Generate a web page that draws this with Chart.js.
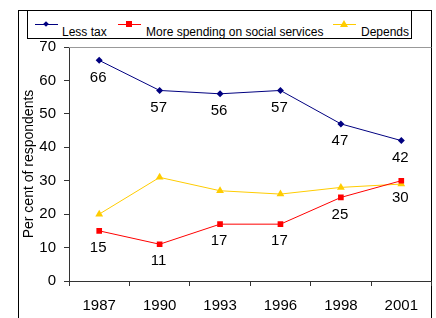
<!DOCTYPE html>
<html>
<head>
<meta charset="utf-8">
<script src="https://cdn.jsdelivr.net/npm/chart.js@4/dist/chart.umd.min.js"></script>
<style>
    body { margin: 0; background: #fff; font-family: "Liberation Sans", Arial, sans-serif; }
    #wrap { position: relative; width: 436px; height: 318px; overflow: hidden; }
    #frame { position: absolute; left: 18px; top: 10px; width: 412px; height: 330px; border: 1px solid #000; }
    #legend { position: absolute; left: 27px; top: 10px; width: 383px; height: 27px; border: 1px solid #000; background: #fff; }
    .lg-line { position: absolute; height: 1px; width: 23px; top: 24px; }
    .lg-text { position: absolute; top: 24px; font-size: 12px; line-height: 14px; color: #000; white-space: nowrap; }
    .mk { position: absolute; }
    canvas { position: absolute; left: 0; top: 0; }
</style>
</head>
<body>
<div id="wrap">
    <div id="frame"></div>
    <canvas id="myChart" width="436" height="318"></canvas>
    <div id="legend"></div>
</div>
<script>
const years = ['1987', '1990', '1993', '1996', '1998', '2001'];
const lessTax = [66, 57, 56, 57, 47, 42];
const moreSpending = [15, 11, 17, 17, 25, 30];
const depends = [20, 31, 27, 26, 28, 29];
const yTicks = [0, 10, 20, 30, 40, 50, 60, 70];

const seriesNames = ['Less tax', 'More spending on social services', 'Depends'];
const seriesColors = ['#000080', '#FF0000', '#FFCC00'];

// legend drawn as html, page coordinates
function buildLegend() {
    const legend = document.getElementById('legend');
    const items = [
        { lineX: 35, textX: 62, marker: 'diamond' },
        { lineX: 118, textX: 146, marker: 'square' },
        { lineX: 333, textX: 361, marker: 'triangle' }
    ];
    let html = '';
    items.forEach((it, i) => {
        const c = seriesColors[i];
        const lx = it.lineX - 28;
        html += `<div class="lg-line" style="left:${lx}px;top:13px;background:${c}"></div>`;
        const mx = lx + 11;
        if (it.marker === 'diamond') {
            html += `<div class="mk" style="left:${mx - 2}px;top:11px;width:4px;height:4px;background:${c};transform:rotate(45deg)"></div>`;
        } else if (it.marker === 'square') {
            html += `<div class="mk" style="left:${mx - 3}px;top:10px;width:6px;height:6px;background:${c}"></div>`;
        } else {
            html += `<div class="mk" style="left:${mx - 4}px;top:9px;width:0;height:0;border-left:4px solid transparent;border-right:4px solid transparent;border-bottom:7px solid ${c}"></div>`;
        }
        html += `<div class="lg-text" style="left:${it.textX - 28}px;top:14px">${seriesNames[i]}</div>`;
    });
    legend.innerHTML = html;
}
buildLegend();

const valueLabels = {
    id: 'valueLabels',
    afterDatasetsDraw(chart) {
        const ctx = chart.ctx;
        ctx.save();
        ctx.font = '15px "Liberation Sans", Arial, sans-serif';
        ctx.fillStyle = '#000';
        ctx.textAlign = 'center';
        ctx.textBaseline = 'middle';
        [0, 1].forEach(di => {
            const meta = chart.getDatasetMeta(di);
            meta.data.forEach((pt, i) => {
                ctx.fillText(String(chart.data.datasets[di].data[i]), pt.x - 1, pt.y + 17);
            });
        });
        ctx.restore();
    }
};

const plotBorder = {
    id: 'plotBorder',
    beforeDatasetsDraw(chart) {
        const a = chart.chartArea;
        const ctx = chart.ctx;
        ctx.save();
        ctx.strokeStyle = '#999';
        ctx.lineWidth = 1;
        ctx.beginPath();
        ctx.moveTo(a.left, a.top + 0.5);
        ctx.lineTo(a.right, a.top + 0.5);
        ctx.stroke();
        ctx.restore();
    }
};

new Chart(document.getElementById('myChart'), {
    type: 'line',
    data: {
        labels: years,
        datasets: [{
            label: seriesNames[0],
            data: lessTax,
            borderColor: seriesColors[0],
            backgroundColor: seriesColors[0],
            borderWidth: 1,
            pointStyle: 'rectRot',
            pointRadius: 3.5,
            pointBorderWidth: 0
        }, {
            label: seriesNames[1],
            data: moreSpending,
            borderColor: seriesColors[1],
            backgroundColor: seriesColors[1],
            borderWidth: 1,
            pointStyle: 'rect',
            pointRadius: 4,
            pointBorderWidth: 0
        }, {
            label: seriesNames[2],
            data: depends,
            borderColor: seriesColors[2],
            backgroundColor: seriesColors[2],
            borderWidth: 1,
            pointStyle: 'triangle',
            pointRadius: 4.5,
            pointBorderWidth: 0
        }]
    },
    options: {
        responsive: false,
        animation: false,
        layout: { padding: { top: 47, right: 4, left: 0, bottom: 0 } },
        plugins: {
            legend: { display: false },
            tooltip: { enabled: false }
        },
        scales: {
            x: {
                offset: true,
                grid: { drawOnChartArea: false, tickLength: 5, color: '#333', offset: true },
                border: { color: '#333' },
                ticks: {
                    color: '#000',
                    padding: 11,
                    font: { family: '"Liberation Sans", Arial, sans-serif', size: 15 }
                },
                afterFit: function (scale) { scale.height = 37; }
            },
            y: {
                min: 0,
                max: 70,
                afterBuildTicks: function (scale) { scale.ticks = yTicks.map(v => ({ value: v })); },
                grid: { drawOnChartArea: false, tickLength: 5, color: '#333' },
                border: { color: '#333' },
                ticks: {
                    color: '#000',
                    padding: 8,
                    font: { family: '"Liberation Sans", Arial, sans-serif', size: 15 }
                },
                title: {
                    display: true,
                    text: 'Per cent of respondents',
                    color: '#000',
                    padding: { top: 21, bottom: 0 },
                    font: { family: '"Liberation Sans", Arial, sans-serif', size: 14 }
                },
                afterFit: function (scale) { scale.width = 69; }
            }
        }
    },
    plugins: [valueLabels, plotBorder]
});
</script>
</body>
</html>
